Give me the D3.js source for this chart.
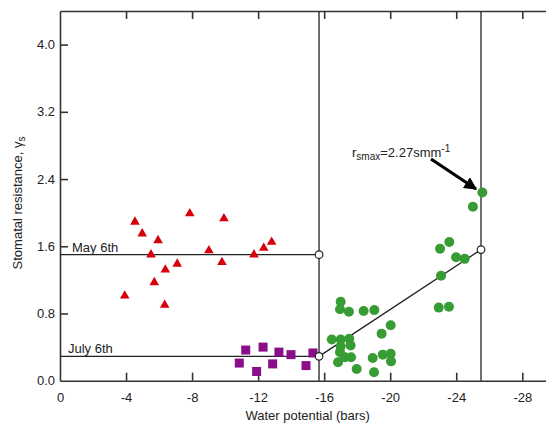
<!DOCTYPE html>
<html>
<head>
<meta charset="utf-8">
<script src="https://cdn.jsdelivr.net/npm/d3@7"></script>
<style>
  body { margin: 0; background: #fff; }
  svg { display: block; }
  text { font-family: "Liberation Sans", Arial, sans-serif; fill: #222; }
</style>
</head>
<body>
<div class="container"></div>
<script>
// red triangles (May)
var mayX = [-4.54, -7.86, -4.98, -5.94, -5.51, -9.02, -7.10, -6.38, -5.71, -3.92, -6.34, -9.93, -9.81, -11.75, -12.34, -12.82];
var mayY = [1.89, 1.99, 1.75, 1.67, 1.50, 1.55, 1.39, 1.32, 1.17, 1.01, 0.90, 1.93, 1.41, 1.50, 1.58, 1.65];

// purple squares (July)
var julX = [-11.25, -12.30, -13.26, -13.99, -15.32, -10.86, -12.88, -11.91, -14.90];
var julY = [0.365, 0.40, 0.34, 0.31, 0.33, 0.21, 0.20, 0.11, 0.18];

// green circles
var grnX = [-17.00, -16.96, -17.50, -18.39, -19.04, -20.03, -19.48, -16.46, -17.00, -17.52, -17.60, -17.00, -16.96, -17.26, -17.63, -16.84, -17.97, -18.94, -19.55, -20.03, -20.05, -19.02,
            -25.58, -25.01, -23.02, -23.58, -23.99, -24.51, -23.08, -22.94, -23.56];
var grnY = [0.94, 0.85, 0.82, 0.83, 0.84, 0.66, 0.56, 0.49, 0.49, 0.50, 0.42, 0.41, 0.34, 0.28, 0.28, 0.22, 0.14, 0.27, 0.31, 0.32, 0.23, 0.10,
            2.24, 2.07, 1.57, 1.65, 1.47, 1.45, 1.25, 0.87, 0.88];

var xTicks = [0, -4, -8, -12, -16, -20, -24, -28];
var yTicks = [0, 0.8, 1.6, 2.4, 3.2, 4.0];

var mayLevel = 1.50, julLevel = 0.29;
var xBreak = -15.69, xMax = -25.50, yMaxLine = 1.56;

var w = 546, h = 427;

var svg = d3.select(".container").append("svg")
    .attr("width", w).attr("height", h);

var x = d3.scaleLinear().domain([0, -30]).range([60, 60 + 30 * 16.51]);
var y = d3.scaleLinear().domain([0, 4.4]).range([380.7, 11]);

var axisColor = "#333";

// frame lines (top and bottom extend past the window)
var xAxis = d3.axisBottom(x).tickValues(xTicks).tickSizeInner(-8).tickSizeOuter(0)
    .tickPadding(12)
    .tickFormat(function(d) { return d === 0 ? "0" : "-" + Math.abs(d); });
var gx = svg.append("g").attr("transform", "translate(0," + y(0) + ")").call(xAxis);

var topAxis = d3.axisTop(x).tickValues(xTicks.slice(1)).tickSizeInner(-8).tickSizeOuter(0).tickFormat("");
var gt = svg.append("g").attr("transform", "translate(0," + y(4.4) + ")").call(topAxis);

var yAxis = d3.axisLeft(y).tickValues(yTicks).tickSizeInner(-8).tickSizeOuter(0)
    .tickPadding(5)
    .tickFormat(d3.format(".1f"));
var gy = svg.append("g").attr("transform", "translate(" + x(0) + ",0)").call(yAxis);

[gx, gt, gy].forEach(function(g) {
    g.select(".domain").attr("stroke", axisColor).attr("stroke-width", 1.6);
    g.selectAll(".tick line").attr("stroke", axisColor).attr("stroke-width", 1.6);
    g.selectAll(".tick text").attr("font-size", 13).attr("fill", "#222")
        .attr("font-family", "Liberation Sans, Arial, sans-serif");
});
gx.selectAll(".tick").filter(function(d) { return d === 0; }).select("line").remove();
gy.selectAll(".tick").filter(function(d) { return d === 0; }).select("line").remove();

// reference lines
var lineColor = "#222";
svg.append("line").attr("x1", x(xBreak)).attr("x2", x(xBreak)).attr("y1", y(4.4)).attr("y2", y(0))
    .attr("stroke", lineColor).attr("stroke-width", 1.3);
svg.append("line").attr("x1", x(xMax)).attr("x2", x(xMax)).attr("y1", y(4.4)).attr("y2", y(0))
    .attr("stroke", lineColor).attr("stroke-width", 1.3);
svg.append("line").attr("x1", x(0)).attr("x2", x(xBreak)).attr("y1", y(mayLevel)).attr("y2", y(mayLevel))
    .attr("stroke", lineColor).attr("stroke-width", 1.3);
svg.append("line").attr("x1", x(0)).attr("x2", x(xBreak)).attr("y1", y(julLevel)).attr("y2", y(julLevel))
    .attr("stroke", lineColor).attr("stroke-width", 1.3);
svg.append("line").attr("x1", x(xBreak)).attr("x2", x(xMax)).attr("y1", y(julLevel)).attr("y2", y(yMaxLine))
    .attr("stroke", lineColor).attr("stroke-width", 1.3);

svg.append("text").attr("x", 72).attr("y", y(mayLevel) - 3).attr("font-size", 13).text("May 6th");
svg.append("text").attr("x", 68).attr("y", y(julLevel) - 3).attr("font-size", 13).text("July 6th");

// points
var red = d3.range(mayX.length).map(function(i) { return [mayX[i], mayY[i]]; });
var pur = d3.range(julX.length).map(function(i) { return [julX[i], julY[i]]; });
var grn = d3.range(grnX.length).map(function(i) { return [grnX[i], grnY[i]]; });

svg.selectAll(".tri").data(red).enter().append("path")
    .attr("d", d3.symbol().type(d3.symbolTriangle).size(40))
    .attr("transform", function(d) { return "translate(" + x(d[0]) + "," + y(d[1]) + ")"; })
    .attr("fill", "#d6000d");

svg.selectAll(".sq").data(pur).enter().append("rect")
    .attr("x", function(d) { return x(d[0]) - 4.5; })
    .attr("y", function(d) { return y(d[1]) - 4.5; })
    .attr("width", 9).attr("height", 9)
    .attr("fill", "#8a0d8a");

svg.selectAll(".dot").data(grn).enter().append("circle")
    .attr("cx", function(d) { return x(d[0]); })
    .attr("cy", function(d) { return y(d[1]); })
    .attr("r", 5)
    .attr("fill", "#389c34");

// open circles at the break points
[[xBreak, mayLevel], [xBreak, julLevel], [xMax, yMaxLine]].forEach(function(p) {
    svg.append("circle").attr("cx", x(p[0])).attr("cy", y(p[1])).attr("r", 3.8)
        .attr("fill", "#fff").attr("stroke", "#222").attr("stroke-width", 1.2);
});

// annotation
var ann = svg.append("text").attr("x", 352).attr("y", 157).attr("font-size", 13);
ann.append("tspan").text("r");
ann.append("tspan").attr("font-size", 10).attr("dy", 3).text("smax");
ann.append("tspan").attr("dy", -3).text("=2.27smm");
ann.append("tspan").attr("font-size", 10).attr("dy", -5).text("-1");

svg.append("defs").append("marker").attr("id", "ah")
    .attr("viewBox", "0 0 10 10").attr("refX", 9).attr("refY", 5)
    .attr("markerWidth", 4).attr("markerHeight", 4).attr("orient", "auto")
    .append("path").attr("d", "M0,0 L10,5 L0,10 z").attr("fill", "#000");
svg.append("line").attr("x1", 431).attr("y1", 159).attr("x2", 476).attr("y2", 189)
    .attr("stroke", "#000").attr("stroke-width", 3.2).attr("marker-end", "url(#ah)");

// axis titles
svg.append("text").attr("x", x(-15)).attr("y", 420).attr("text-anchor", "middle")
    .attr("font-size", 13).text("Water potential (bars)");

var yl = svg.append("text").attr("text-anchor", "middle").attr("font-size", 13)
    .attr("transform", "translate(22,203)rotate(-90)");
yl.append("tspan").text("Stomatal resistance, \u03b3");
yl.append("tspan").attr("font-size", 10).attr("dy", 3).text("s");
</script>
</body>
</html>
